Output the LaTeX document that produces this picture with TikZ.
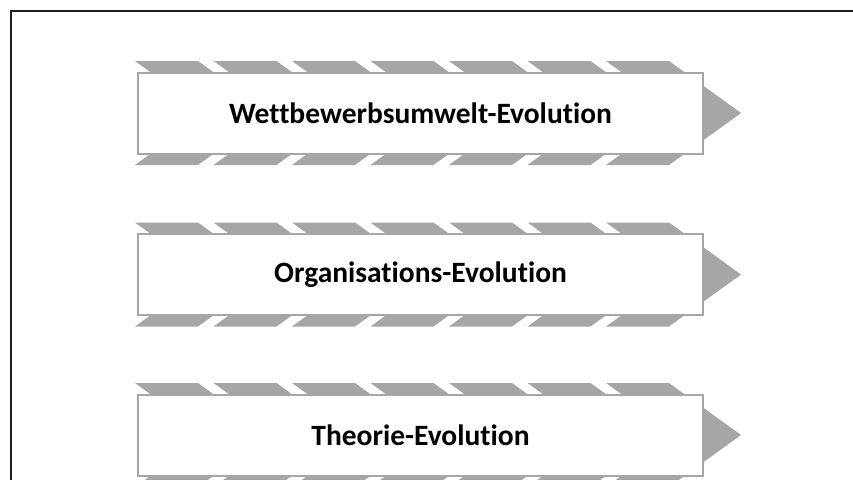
\documentclass[tikz,border=0pt]{standalone}
\usepackage{fontspec}
\setmainfont{Carlito}[Ligatures={NoCommon}]
\definecolor{stripe}{HTML}{A6A6A6}
\definecolor{boxline}{HTML}{A6A6A6}
\begin{document}
\begin{tikzpicture}[x=1pt,y=-1pt,
  stagebox/.style={draw=boxline, line width=2.2pt, fill=white,
    minimum width=565pt, minimum height=81pt, inner sep=0pt,
    font=\fontsize{29.5}{33}\selectfont\bfseries},
  chev/.style={fill=stripe}]
\clip (0,0) rectangle (853,479);
\fill[white] (0,0) rectangle (853,479);
\draw[line width=2pt, black!88] (11,495) -- (11,11) -- (870,11);
\foreach \m in {113,274.5,435}{
  \foreach \i in {0,...,6}{
    \fill[chev] ({135+78.5*\i},{\m-52}) -- ++(63,0) -- ++(72,52) -- ++(-72,52)
      -- ++(-63,0) -- ++(72,-52) -- cycle;
  }
}
\node[stagebox] (b1) at (420.5,113.5) {Wettbewerbsumwelt-Evolution};
\node[stagebox] (b2) at (420.5,274.5) {Organisations-Evolution};
\node[stagebox] (b3) at (420.5,435.5) {Theorie-Evolution};
\end{tikzpicture}
\end{document}
